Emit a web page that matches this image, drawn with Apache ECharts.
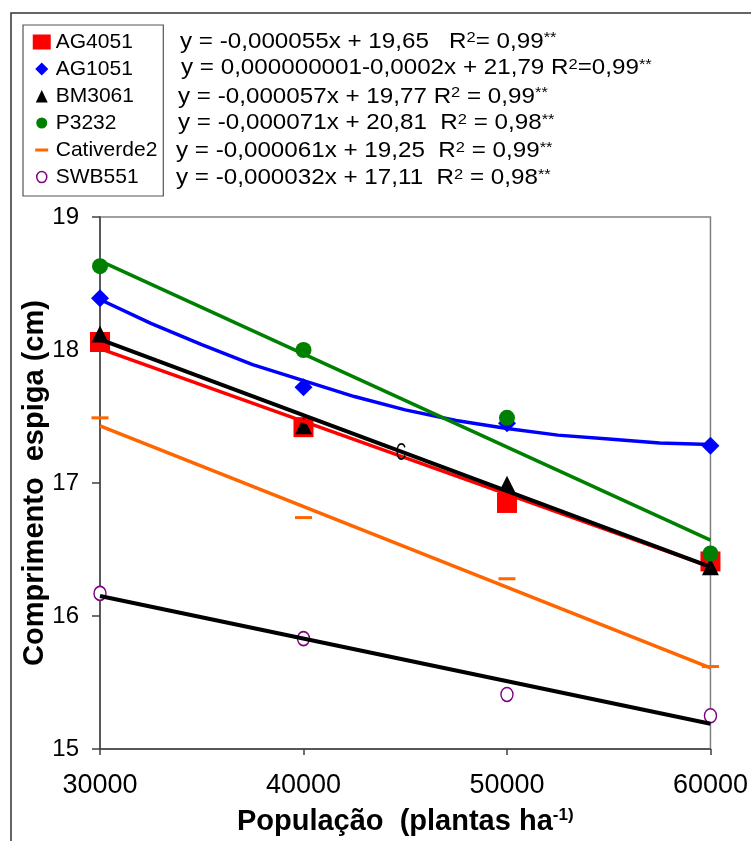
<!DOCTYPE html>
<html><head><meta charset="utf-8">
<script src="https://cdn.jsdelivr.net/npm/echarts@6/dist/echarts.min.js"></script>
<style>html,body{margin:0;padding:0;background:#fff}#c{width:751px;height:841px}</style>
</head><body><div id="c"></div><script>
// ---- data ----
const xValues = [30000, 40000, 50000, 60000];
const ag4051 = [18.06, 17.42, 16.85, 16.41];
const ag1051 = [18.39, 17.72, 17.45, 17.28];
const bm3061 = [18.12, 17.43, 16.99, 16.37];
const p3232 = [18.63, 18.00, 17.49, 16.47];
const cativerde2 = [17.49, 16.74, 16.28, 15.62];
const swb551 = [16.17, 15.83, 15.41, 15.25];

// trend lines (endpoints)
const trendX = [30000, 60000];
const ag4051Trend = [18.01, 16.37];
const bm3061Trend = [18.08, 16.37];
const p3232Trend = [18.67, 16.57];
const cativerde2Trend = [17.43, 15.61];
const swb551Trend = [16.15, 15.19];
// AG1051 curved trend line
const ag1051CurveX = [30000, 32500, 35000, 37500, 40000, 42500, 45000, 47500, 50000, 52500, 55000, 57500, 60000];
const ag1051CurveY = [18.38, 18.20, 18.04, 17.89, 17.77, 17.65, 17.55, 17.47, 17.41, 17.36, 17.33, 17.30, 17.29];

const xTicks = [30000, 40000, 50000, 60000];
const yTicks = [15, 16, 17, 18, 19];

const seriesNames = ['AG4051', 'AG1051', 'BM3061', 'P3232', 'Cativerde2', 'SWB551'];
const equations = [
  ['y = -0,000055x + 19,65   R', '= 0,99'],
  ['y = 0,000000001-0,0002x + 21,79 R', '=0,99'],
  ['y = -0,000057x + 19,77 R', ' = 0,99'],
  ['y = -0,000071x + 20,81  R', ' = 0,98'],
  ['y = -0,000061x + 19,25  R', ' = 0,99'],
  ['y = -0,000032x + 17,11  R', ' = 0,98']
];

const zip = (xs, ys) => xs.map((x, i) => [x, ys[i]]);
const FONT = 'Liberation Sans, Arial, sans-serif';

const chart = echarts.init(document.getElementById('c'), null, {renderer: 'canvas'});

function scatter(name, data, symbol, size, color, extra) {
  return Object.assign({
    name, type: 'scatter', data: zip(xValues, data), symbol, symbolSize: size,
    itemStyle: {color, opacity: 1}, z: 3, emphasis: {disabled: true}
  }, extra || {});
}
function trend(xs, ys, color, width) {
  return {
    type: 'line', data: zip(xs, ys), showSymbol: false, symbol: 'none',
    lineStyle: {color, width}, z: 4, silent: true, smooth: false
  };
}

const eqGraphics = equations.map((e, i) => {
  const rowsY = [41.7, 68, 96.5, 123, 151, 178];
  const rowsX = [180, 181, 178, 178, 176, 176];
  return {
    type: 'text', x: rowsX[i], y: rowsY[i], scaleX: 1.1, z: 10,
    style: {
      text: e[0] + '{sup|2}' + e[1] + '{sup|**}',
      font: '22px ' + FONT, fill: '#000', verticalAlign: 'middle',
      rich: {sup: {fontSize: 15, fontFamily: FONT, verticalAlign: 'top', fill: '#000'}}
    }
  };
});

const purpleStyle = {color: '#fff', borderColor: '#800080', borderWidth: 1.5, opacity: 1};

chart.setOption({
  animation: false,
  backgroundColor: '#fff',
  grid: {left: 100, right: 39, top: 217, bottom: 89, show: true, borderColor: '#808080', borderWidth: 1.5},
  legend: {
    orient: 'vertical', left: 23, top: 25,
    padding: [6, 6, 8, 9], itemGap: 5, itemWidth: 18, itemHeight: 15,
    borderColor: '#555', borderWidth: 1.2,
    textStyle: {fontSize: 21, fontFamily: FONT, color: '#000', lineHeight: 22},
    data: [
      {name: 'AG4051', icon: 'rect'},
      {name: 'AG1051', icon: 'path://M0,0 M18,15 M9,1 L15.5,7.5 L9,14 L2.5,7.5 Z'},
      {name: 'BM3061', icon: 'path://M0,0 M18,15 M9,1.5 L15,14 L3,14 Z'},
      {name: 'P3232', icon: 'path://M0,0 M18,15 M9,2 A5.5,5.5 0 1 1 8.99,2 Z'},
      {name: 'Cativerde2', icon: 'path://M0,0 M18,15 M2.5,6 L15.5,6 L15.5,9 L2.5,9 Z'},
      {name: 'SWB551', icon: 'path://M0,0 M18,15 M9,2 A5,5.5 0 1 1 8.99,2 Z', itemStyle: purpleStyle}
    ],
    selectedMode: false
  },
  xAxis: {
    type: 'value', min: 30000, max: 60000, interval: 10000,
    axisLine: {show: true, lineStyle: {color: '#404040', width: 1.5}},
    axisTick: {show: true, inside: false, length: 6, lineStyle: {color: '#404040', width: 1.5}},
    splitLine: {show: false},
    axisLabel: {fontSize: 27, fontFamily: FONT, color: '#000', margin: 23,
      formatter: v => xTicks.includes(v) ? String(v) : ''},
    name: 'População  (plantas ha{sup|-1)}',
    nameLocation: 'middle', nameGap: 58,
    nameTextStyle: {fontSize: 29, fontWeight: 'bold', fontFamily: FONT, color: '#000',
      rich: {sup: {fontSize: 17, fontWeight: 'bold', fontFamily: FONT, verticalAlign: 'top', color: '#000'}}}
  },
  yAxis: {
    type: 'value', min: 15, max: 19, interval: 1,
    axisLine: {show: true, lineStyle: {color: '#404040', width: 1.5}},
    axisTick: {show: true, inside: false, length: 8, lineStyle: {color: '#404040', width: 1.5}},
    splitLine: {show: false},
    axisLabel: {fontSize: 24, fontFamily: FONT, color: '#000', margin: 21,
      formatter: v => yTicks.includes(v) ? String(v) : ''},
    name: 'Comprimento  espiga (cm)',
    nameLocation: 'middle', nameGap: 51, nameMoveOverlap: false,
    nameTextStyle: {fontSize: 29, fontWeight: 'bold', fontFamily: FONT, color: '#000'}
  },
  series: [
    trend(trendX, ag4051Trend, '#FF0000', 3.5),
    trend(ag1051CurveX, ag1051CurveY, '#0000FF', 3.5),
    trend(trendX, p3232Trend, '#008000', 3.5),
    trend(trendX, cativerde2Trend, '#FF6600', 3.5),
    trend(trendX, bm3061Trend, '#000000', 4),
    trend(trendX, swb551Trend, '#000000', 4),
    scatter('AG4051', ag4051, 'rect', 20, '#FF0000'),
    scatter('AG1051', ag1051, 'diamond', 18, '#0000FF'),
    scatter('BM3061', bm3061, 'triangle', 17, '#000000'),
    scatter('P3232', p3232, 'circle', 16, '#008000'),
    scatter('Cativerde2', cativerde2, 'rect', [17, 3], '#FF6600'),
    scatter('SWB551', swb551, 'circle', [12, 14], '#800080', {itemStyle: purpleStyle})
  ],
  graphic: [
    {type: 'rect', shape: {x: 11, y: 13, width: 800, height: 900}, z: -10,
      style: {fill: 'none', stroke: '#333', lineWidth: 1.5}, silent: true},
    {type: 'text', x: 401, y: 453, scaleX: 0.6, z: 10,
      style: {text: 'C', font: '24px ' + FONT, fill: '#000', align: 'center', verticalAlign: 'middle'}}
  ].concat(eqGraphics)
});
</script></body></html>
